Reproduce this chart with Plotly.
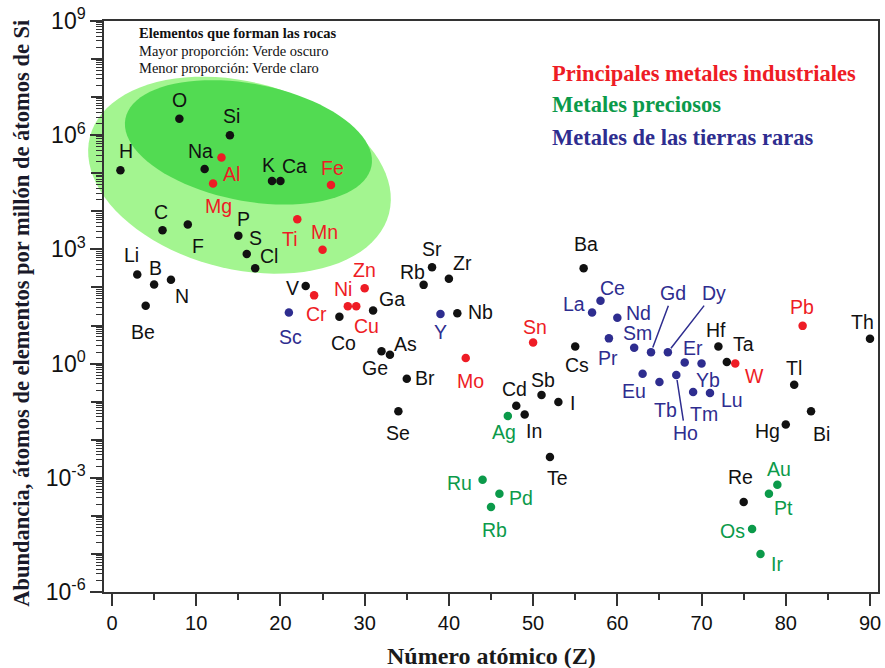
import math
import plotly.graph_objects as go

# ---------------- data ----------------
symbols = ["H", "Li", "Be", "B", "C", "N", "O", "F", "Na", "Mg", "Al", "Si", "P", "S", "Cl",
           "K", "Ca", "Sc", "Ti", "V", "Cr", "Mn", "Fe", "Co", "Ni", "Cu", "Zn", "Ga", "Ge",
           "As", "Se", "Br", "Rb", "Sr", "Y", "Zr", "Nb", "Mo", "Ru", "Rb", "Pd", "Ag", "Cd",
           "In", "Sn", "Sb", "Te", "I", "Cs", "Ba", "La", "Ce", "Pr", "Nd", "Sm", "Eu", "Gd",
           "Tb", "Dy", "Ho", "Er", "Tm", "Yb", "Lu", "Hf", "Ta", "W", "Re", "Os", "Ir", "Pt",
           "Au", "Hg", "Tl", "Pb", "Bi", "Th"]
atomic_number = [1, 3, 4, 5, 6, 7, 8, 9, 11, 12, 13, 14, 15, 16, 17,
                 19, 20, 21, 22, 23, 24, 25, 26, 27, 28, 29, 30, 31, 32,
                 33, 34, 35, 37, 38, 39, 40, 41, 42, 44, 45, 46, 47, 48,
                 49, 50, 51, 52, 53, 55, 56, 57, 58, 59, 60, 62, 63, 64,
                 65, 66, 67, 68, 69, 70, 71, 72, 73, 74, 75, 76, 77, 78,
                 79, 80, 81, 82, 83, 90]
abundance = [1.2e5, 220, 33, 120, 3200, 160, 2.7e6, 4500, 1.3e5, 5.4e4, 2.6e5, 1.0e6, 2300, 760, 320,
             6.3e4, 6.3e4, 22, 6200, 110, 62, 980, 4.9e4, 17, 32, 32, 95, 25, 2.1,
             1.7, 0.056, 0.40, 117, 340, 20, 170, 21, 1.4, 8.9e-4, 1.7e-4, 3.8e-4, 0.042, 0.078,
             0.046, 3.6, 0.15, 0.0035, 0.098, 2.8, 320, 22, 45, 4.6, 16, 2.6, 0.54, 2.0,
             0.33, 2.0, 0.50, 1.07, 0.18, 1.0, 0.17, 2.8, 1.1, 1.0, 2.3e-4, 4.5e-5, 1.0e-5, 3.8e-4,
             6.6e-4, 0.025, 0.28, 9.8, 0.056, 4.5]
# o = otros, i = metales industriales, p = metales preciosos, r = tierras raras
group = ["o", "o", "o", "o", "o", "o", "o", "o", "o", "i", "i", "o", "o", "o", "o",
         "o", "o", "r", "i", "o", "i", "i", "i", "o", "i", "i", "i", "o", "o",
         "o", "o", "o", "o", "o", "r", "o", "o", "i", "p", "p", "p", "p", "o",
         "o", "i", "o", "o", "o", "o", "o", "r", "r", "r", "r", "r", "r", "r",
         "r", "r", "r", "r", "r", "r", "r", "o", "o", "i", "o", "p", "p", "p",
         "p", "o", "o", "i", "o", "o"]

x_ticks = list(range(0, 91, 10))
y_label_exponents = [-6, -3, 0, 3, 6, 9]
legend_lines = ["Principales metales industriales", "Metales preciosos", "Metales de las tierras raras"]
rock_note = ["<b>Elementos que forman las rocas</b>", "Mayor proporción: Verde oscuro", "Menor proporción: Verde claro"]

# ---------------- styles ----------------
colors = {"o": "#111111", "i": "#ee1c25", "p": "#0b9a4a", "r": "#2e2d8f"}
legend_colors = ["#ee1c25", "#0b9a4a", "#2e2d8f"]
SANS = "Liberation Sans, Arial, sans-serif"
SERIF = "Liberation Serif, Times New Roman, serif"
AX = "#333333"

# label offsets in pixels (dx right, dy down), keyed by atomic number
label_offsets = {
    1: (6, -19), 3: (-6, -19), 4: (-3, 26), 5: (1, -16), 6: (-2, -18), 7: (11, 16), 8: (0, -19),
    9: (10, 21), 11: (-4, -18), 12: (5, 23), 13: (10, 17), 14: (2, -19), 15: (5, -17), 16: (9, -16),
    17: (14, -12), 19: (-4, -16), 20: (14, -15), 21: (2, 24), 22: (-7, 20), 23: (-13, 2), 24: (2, 19),
    25: (2, -18), 26: (2, -17), 27: (4, 26), 28: (-5, -17), 29: (10, 20), 30: (0, -18), 31: (19, -11),
    32: (-7, 17), 33: (16, -11), 34: (0, 22), 35: (18, -1), 37: (-11, -13), 38: (0, -18), 39: (0, 18),
    40: (14, -16), 41: (23, -1), 42: (5, 23), 44: (-23, 3), 45: (3, 23), 46: (22, 4), 47: (-4, 16),
    48: (-2, -17), 49: (9, 16), 50: (2, -15), 51: (1, -15), 52: (8, 21), 53: (14, 1), 55: (2, 18),
    56: (2, -24), 57: (-18, -9), 58: (12, -13), 59: (-1, 20), 60: (21, -5), 62: (3, -15), 63: (-9, 17),
    64: (22, -59), 65: (6, 28), 66: (46, -59), 67: (9, 58), 68: (8, -14), 69: (11, 22), 70: (6, 16),
    71: (22, 7), 72: (-2, -17), 73: (17, -18), 74: (19, 12), 75: (-3, -25), 76: (-20, 2), 77: (16, 10),
    78: (15, 14), 79: (2, -16), 80: (-18, 6), 81: (0, -17), 82: (-1, -19), 83: (10, 23), 90: (-8, -17),
}
leaders = {64, 66, 67}

W, H = 885, 668
ML, MR, MT, MB = 104, 4, 18, 76
PW, PH = W - ML - MR, H - MT - MB


def to_paper(px, py):
    return (px - ML) / PW, 1 - (py - MT) / PH


def ellipse_path(cx, cy, a, b, theta_deg, n=90):
    th = math.radians(theta_deg)
    pts = []
    for i in range(n):
        t = 2 * math.pi * i / n
        px = cx + a * math.cos(t) * math.cos(th) - b * math.sin(t) * math.sin(th)
        py = cy + a * math.cos(t) * math.sin(th) + b * math.sin(t) * math.cos(th)
        xp, yp = to_paper(px, py)
        pts.append(f"{xp:.5f},{yp:.5f}")
    return "M " + " L ".join(pts) + " Z"


fig = go.Figure()

for g in ["o", "i", "p", "r"]:
    idx = [k for k in range(len(symbols)) if group[k] == g]
    fig.add_trace(go.Scatter(
        x=[atomic_number[k] for k in idx],
        y=[abundance[k] for k in idx],
        mode="markers",
        marker=dict(size=8.5, color=colors[g], line=dict(width=0)),
        showlegend=False, hoverinfo="skip"))

# invisible trace carrying the secondary (unlabelled decade ticks) axis
fig.add_trace(go.Scatter(x=[x_ticks[0]], y=[1.0], yaxis="y2", mode="markers",
                         marker=dict(opacity=0), showlegend=False, hoverinfo="skip"))

# ellipses (rock-forming elements)
fig.add_shape(type="path", xref="paper", yref="paper", layer="below",
              path=ellipse_path(240, 173, 155, 94.2, 14.4),
              fillcolor="#a3f590", line=dict(width=0))
fig.add_shape(type="path", xref="paper", yref="paper", layer="below",
              path=ellipse_path(249, 140, 125.8, 58.9, 10.9),
              fillcolor="#52db52", line=dict(width=0))

# element labels
for k, s in enumerate(symbols):
    z = atomic_number[k]
    dx, dy = label_offsets[z]
    col = colors[group[k]]
    yv = math.log10(abundance[k])
    if z in leaders:
        fig.add_annotation(x=z, y=yv, text=s, showarrow=True, ax=dx, ay=dy,
                           arrowhead=0, arrowwidth=1.5, arrowcolor=col, standoff=5,
                           font=dict(family=SANS, size=19.5, color=col))
    else:
        fig.add_annotation(x=z, y=yv, text=s, showarrow=False, xshift=dx, yshift=-dy,
                           font=dict(family=SANS, size=19.5, color=col))

# category legend (text)
for i, (t, c) in enumerate(zip(legend_lines, legend_colors)):
    xp, yp = to_paper(552, [71, 102, 135][i])
    fig.add_annotation(xref="paper", yref="paper", x=xp, y=yp, xanchor="left", yanchor="middle",
                       text=f"<b>{t}</b>", showarrow=False,
                       font=dict(family=SERIF, size=22.5, color=c))

# rock note
for i, t in enumerate(rock_note):
    xp, yp = to_paper(137, [30, 47.7, 65.5][i])
    fig.add_annotation(xref="paper", yref="paper", x=xp, y=yp, xanchor="left", yanchor="middle",
                       text=t, showarrow=False,
                       font=dict(family=SERIF, size=14.5, color="#111111"))

# axis titles
xp, yp = to_paper(492.5, 656.5)
fig.add_annotation(xref="paper", yref="paper", x=xp, y=yp, xanchor="center", yanchor="middle",
                   text="<b>Número atómico (Z)</b>", showarrow=False,
                   font=dict(family=SERIF, size=24, color="#1a1a1a"))
xp, yp = to_paper(21, 312)
fig.add_annotation(xref="paper", yref="paper", x=xp, y=yp, xanchor="center", yanchor="middle",
                   text="<b>Abundancia, átomos de elementos por millón de átomos de Si</b>",
                   textangle=-90, showarrow=False,
                   font=dict(family=SERIF, size=22.5, color="#1a1a2a"))

y_min, y_max = min(y_label_exponents), max(y_label_exponents)
unlabelled_decades = [d for d in range(y_min, y_max + 1) if d not in y_label_exponents]

fig.update_layout(
    width=W, height=H,
    margin=dict(l=ML, r=MR, t=MT, b=MB),
    paper_bgcolor="white", plot_bgcolor="white",
    showlegend=False,
    xaxis=dict(range=[-0.95, 90.95], tickmode="array", tickvals=x_ticks,
               ticks="outside", ticklen=12, tickwidth=1.5, tickcolor=AX,
               showline=True, linecolor=AX, linewidth=1.5, mirror=True,
               showgrid=False, zeroline=False,
               tickfont=dict(family=SANS, size=20, color="#111111"),
               minor=dict(tickmode="array", tickvals=[v + 5 for v in x_ticks[:-1]], ticks="outside",
                          ticklen=6, tickwidth=1.5, tickcolor=AX, showgrid=False)),
    yaxis=dict(type="log", range=[y_min, y_max], tickmode="array",
               tickvals=[10.0 ** d for d in y_label_exponents],
               ticktext=[f"10<sup>{d}</sup>" for d in y_label_exponents],
               ticks="outside", ticklen=12, tickwidth=1.5, tickcolor=AX,
               showline=True, linecolor=AX, linewidth=1.5, mirror=True,
               showgrid=False, zeroline=False,
               tickfont=dict(family=SANS, size=23, color="#111111"),
               minor=dict(tickmode="array",
                          tickvals=[m * 10.0 ** d for d in range(y_min, y_max) for m in range(2, 10)],
                          ticks="outside", ticklen=6, tickwidth=1, tickcolor=AX,
                          showgrid=False)),
    yaxis2=dict(type="log", range=[y_min, y_max], overlaying="y", side="left", anchor="x",
                tickmode="array", tickvals=[10.0 ** d for d in unlabelled_decades],
                showticklabels=False, ticks="outside", ticklen=12, tickwidth=1.5, tickcolor=AX,
                showline=False, showgrid=False, zeroline=False),
)

fig.write_html("out.html")
